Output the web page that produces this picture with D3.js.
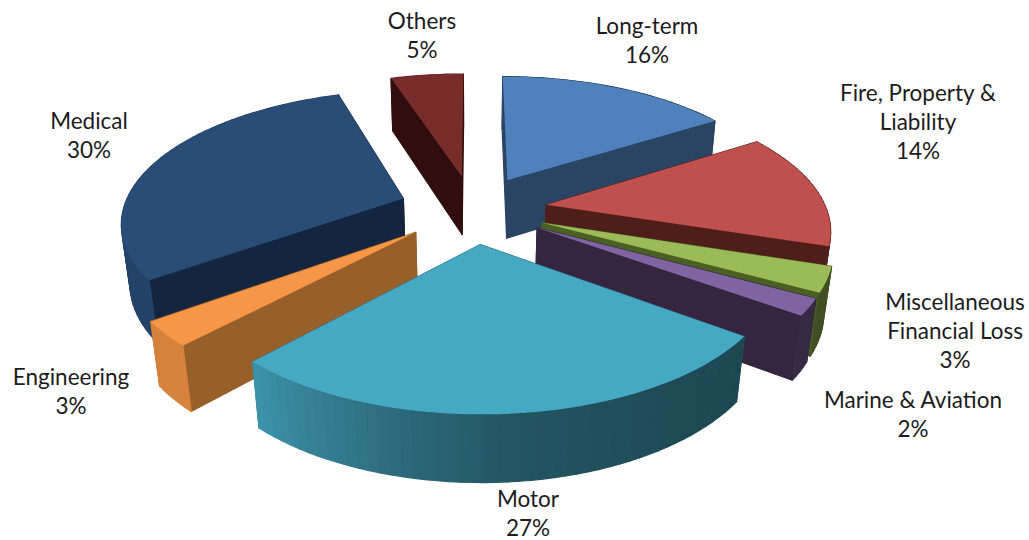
<!DOCTYPE html>
<html>
<head>
    <style>
        html,
        body {
            width: 100%;
            height: 100%;
            margin: 0;
            padding: 0;
            overflow: hidden;
            background: #fff;
        }
    </style>
</head>
<body>
<script src="https://d3js.org/d3.v7.min.js"></script>
<script>
    // Chart values
    const categories = ["Long-term", "Fire, Property & Liability", "Miscellaneous Financial Loss", "Marine & Aviation", "Motor", "Engineering", "Medical", "Others"];
    const shares = [16, 14, 3, 2, 27, 3, 30, 5];
    const labelLines = [
        ["Long-term", "16%"],
        ["Fire, Property &", "Liability", "14%"],
        ["Miscellaneous", "Financial Loss", "3%"],
        ["Marine & Aviation", "2%"],
        ["Motor", "27%"],
        ["Engineering", "3%"],
        ["Medical", "30%"],
        ["Others", "5%"]
    ];

    // Styles
    const topColors = ["#4f81bd", "#c0504d", "#9bbb59", "#8064a2", "#46a9c4", "#f79646", "#2a4d78", "#772c2a"];
    const cutColors = ["#2a4463", "#4f1e1a", "#4a6023", "#35253f", "#2f7286", "#975f2a", "#14263f", "#300e0d"];
    // centre of the first line of each label
    const labelX = [647, 918, 955, 913, 528, 71, 89, 422];
    const labelY = [28, 95, 304, 402, 501, 379, 123, 23];
    const lineHeight = 29;

    const width = 1029;
    const height = 540;

    // Perspective projection of the pie disk
    const centerX = 473;
    const centerY = 209;
    const scaleX = 280;
    const scaleY = 129;
    const perspective = 0.163;
    const depth = 61; // thickness of the pie
    const depthShrink = 0.025; // bottom face is a bit further away
    const explode = 0.265;

    function project(x, y, z) {
        const w = 1 - perspective * y + depthShrink * z;
        return [centerX + scaleX * x / w, centerY + (scaleY * y + depth * z) / w];
    }

    const svg = d3.select("body")
        .append("svg")
        .attr("width", width)
        .attr("height", height);

    const line = d3.line();

    // darkening of the rim depends on where it faces (angle in degrees)
    const rimShade = d3.scaleLinear()
        .domain([126, 150, 174, 190, 223, 300])
        .range([0.42, 0.45, 0.5, 0.6, 0.87, 0.85])
        .clamp(true);

    function shaded(color, k) {
        const c = d3.rgb(color);
        return d3.rgb(c.r * k, c.g * k, c.b * k).formatHex();
    }

    const pie = d3.pie().sort(null).startAngle(0).endAngle(2 * Math.PI);
    const arcs = pie(shares).map((d, i) => {
        const mid = (d.startAngle + d.endAngle) / 2;
        return {
            index: i,
            start: d.startAngle,
            end: d.endAngle,
            ox: explode * Math.sin(mid),
            oy: -explode * Math.cos(mid)
        };
    });

    // back slices first
    arcs.sort((a, b) => a.oy - b.oy);

    const sliceGroups = svg.selectAll("g.slice")
        .data(arcs)
        .join("g")
        .attr("class", "slice");

    sliceGroups.each(function (s) {
        const g = d3.select(this);
        const rimPoint = a => [s.ox + Math.sin(a), s.oy - Math.cos(a)];
        const steps = Math.max(4, Math.ceil((s.end - s.start) / (Math.PI / 90)));
        const angles = d3.range(steps + 1).map(i => s.start + (s.end - s.start) * i / steps);

        const faces = [];
        // rim pieces
        d3.pairs(angles).forEach(([a0, a1]) => {
            const p0 = rimPoint(a0);
            const p1 = rimPoint(a1);
            faces.push({
                y: (p0[1] + p1[1]) / 2,
                fill: shaded(topColors[s.index], rimShade((a0 + a1) * 90 / Math.PI)),
                points: [project(p0[0], p0[1], 0), project(p1[0], p1[1], 0), project(p1[0], p1[1], 1), project(p0[0], p0[1], 1)]
            });
        });
        // two cut faces
        [s.start, s.end].forEach(a => {
            const p = rimPoint(a);
            faces.push({
                y: (p[1] + s.oy) / 2,
                fill: cutColors[s.index],
                points: [project(s.ox, s.oy, 0), project(p[0], p[1], 0), project(p[0], p[1], 1), project(s.ox, s.oy, 1)]
            });
        });
        faces.sort((a, b) => a.y - b.y);

        g.selectAll("path.side")
            .data(faces)
            .join("path")
            .attr("class", "side")
            .attr("d", d => line(d.points) + "Z")
            .attr("fill", d => d.fill)
            .attr("stroke", d => d.fill)
            .attr("stroke-width", 1.2)
            .attr("stroke-linejoin", "round");

        // top surface
        const topPoints = [project(s.ox, s.oy, 0)].concat(angles.map(a => {
            const p = rimPoint(a);
            return project(p[0], p[1], 0);
        }));
        g.append("path")
            .attr("d", line(topPoints) + "Z")
            .attr("fill", topColors[s.index]);
    });

    // Labels
    svg.selectAll("text.label")
        .data(categories)
        .join("text")
        .attr("class", "label")
        .attr("text-anchor", "middle")
        .attr("font-family", "Lato, 'Open Sans', sans-serif")
        .attr("font-size", 22.5)
        .attr("fill", "#1c1c1c")
        .each(function (d, i) {
            d3.select(this).selectAll("tspan")
                .data(labelLines[i])
                .join("tspan")
                .attr("x", labelX[i])
                .attr("y", (t, j) => labelY[i] + j * lineHeight)
                .attr("dominant-baseline", "middle")
                .text(t => t);
        });
</script>
</body>
</html>
